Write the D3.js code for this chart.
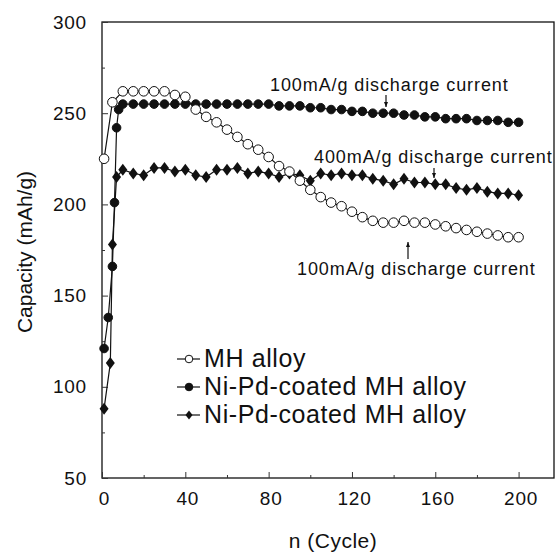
<!DOCTYPE html>
<html>
<head>
<meta charset="utf-8">
<script src="https://cdn.jsdelivr.net/npm/d3@7"></script>
<style>
  body { margin: 0; background: #fff; }
  text { font-family: "Liberation Sans", Arial, sans-serif; fill: #111; }
</style>
</head>
<body>
<div id="chart"></div>
<script>
// data
var cyclesMH = [1, 5, 10, 15, 20, 25, 30, 35, 40, 45, 50, 55, 60, 65, 70, 75, 80, 85, 90, 95,
  100, 105, 110, 115, 120, 125, 130, 135, 140, 145, 150, 155, 160, 165, 170, 175, 180, 185, 190, 195, 200];
var capMH = [225, 256, 262, 262, 262, 262, 262, 260, 259, 252, 248, 245, 241, 237, 233, 230, 226, 221, 218, 213,
  208, 204, 201, 199, 196, 193, 191, 190, 190, 191, 190, 190, 189, 188, 187, 186, 185, 184, 183, 182, 182];

var cyclesNiPd100 = [1, 3, 5, 6, 7, 8, 10, 15, 20, 25, 30, 35, 40, 45, 50, 55, 60, 65, 70, 75, 80, 85, 90, 95,
  100, 105, 110, 115, 120, 125, 130, 135, 140, 145, 150, 155, 160, 165, 170, 175, 180, 185, 190, 195, 200];
var capNiPd100 = [121, 138, 166, 201, 242, 252, 255, 255, 255, 255, 255, 255, 255, 255, 255, 255, 255, 255, 255, 255, 255, 254, 254, 254,
  253, 253, 252, 252, 251, 251, 250, 250, 250, 249, 249, 248, 248, 247, 247, 247, 246, 246, 246, 245, 245];

var cyclesNiPd400 = [1, 4, 5, 7, 10, 15, 20, 25, 30, 35, 40, 45, 50, 55, 60, 65, 70, 75, 80, 85, 90, 95,
  100, 105, 110, 115, 120, 125, 130, 135, 140, 145, 150, 155, 160, 165, 170, 175, 180, 185, 190, 195, 200];
var capNiPd400 = [88, 113, 178, 215, 219, 217, 216, 220, 220, 218, 219, 216, 215, 219, 219, 220, 217, 218, 217, 215, 217, 216,
  213, 217, 216, 217, 216, 216, 214, 213, 211, 214, 212, 212, 211, 211, 209, 208, 209, 207, 206, 206, 205];

var xTicks = [0, 40, 80, 120, 160, 200];
var yTicks = [50, 100, 150, 200, 250, 300];
var legendLabels = ['MH alloy', 'Ni-Pd-coated MH alloy', 'Ni-Pd-coated MH alloy'];

var svgWidth = 557;
var svgHeight = 555;
var margin = { top: 22, right: 3, bottom: 77, left: 102 };
var width = svgWidth - margin.left - margin.right;
var height = svgHeight - margin.top - margin.bottom;

var svg = d3.select('#chart').append('svg')
  .attr('width', svgWidth)
  .attr('height', svgHeight);

var g = svg.append('g')
  .attr('transform', `translate(${margin.left}, ${margin.top})`);

var x = d3.scaleLinear().domain([0, 217]).range([0, width]);
var y = d3.scaleLinear().domain([50, 300]).range([height, 0]);

// frame
g.append('rect')
  .attr('width', width)
  .attr('height', height)
  .attr('fill', 'none')
  .attr('stroke', '#111')
  .attr('stroke-width', 1.3);

// bottom axis, ticks pointing inward
var xAxis = g.append('g')
  .attr('transform', `translate(0, ${height})`)
  .call(d3.axisBottom(x).tickValues(xTicks).tickSize(-6).tickPadding(14).tickFormat(d3.format('d')));
g.append('g')
  .attr('transform', `translate(0, ${height})`)
  .call(d3.axisBottom(x).tickValues([20, 60, 100, 140, 180]).tickSize(-3).tickFormat(''));

var yAxis = g.append('g')
  .call(d3.axisLeft(y).tickValues(yTicks).tickSize(-6).tickPadding(15).tickFormat(d3.format('d')));
g.append('g')
  .call(d3.axisLeft(y).tickValues([75, 125, 175, 225, 275]).tickSize(-3).tickFormat(''));

g.selectAll('.domain').remove();
g.selectAll('.tick line').attr('stroke', '#333');
xAxis.selectAll('text').attr('font-size', '19px').attr('dx', 2).attr('letter-spacing', '0.8px');
yAxis.selectAll('text').attr('font-size', '19px').attr('letter-spacing', '0.8px');

// axis titles
svg.append('text')
  .attr('x', 333)
  .attr('y', 548)
  .attr('text-anchor', 'middle')
  .attr('font-size', '21px')
  .attr('letter-spacing', '0.5px')
  .text('n (Cycle)');

svg.append('text')
  .attr('transform', 'translate(32, 252) rotate(-90)')
  .attr('text-anchor', 'middle')
  .attr('font-size', '21px')
  .text('Capacity (mAh/g)');

// series
var line = d3.line().x(d => x(d[0])).y(d => y(d[1]));
var diamond = 'M0,-6L4.5,0L0,6L-4.5,0Z';

function drawSeries(cycles, caps, kind) {
  var pts = cycles.map((c, i) => [c, caps[i]]);
  g.append('path')
    .datum(pts)
    .attr('d', line)
    .attr('fill', 'none')
    .attr('stroke', '#111')
    .attr('stroke-width', 1.2);
  if (kind === 'diamond') {
    g.selectAll(null)
      .data(pts)
      .enter()
      .append('path')
      .attr('d', diamond)
      .attr('transform', d => `translate(${x(d[0])}, ${y(d[1])})`)
      .attr('fill', '#111');
  } else {
    g.selectAll(null)
      .data(pts)
      .enter()
      .append('circle')
      .attr('cx', d => x(d[0]))
      .attr('cy', d => y(d[1]))
      .attr('r', kind === 'open' ? 4.8 : 4.3)
      .attr('fill', kind === 'open' ? '#fff' : '#111')
      .attr('stroke', '#111')
      .attr('stroke-width', 1);
  }
}

drawSeries(cyclesNiPd400, capNiPd400, 'diamond');
drawSeries(cyclesNiPd100, capNiPd100, 'filled');
drawSeries(cyclesMH, capMH, 'open');

// annotations with little arrows
function note(label, tx, ty, ax, y1, y2) {
  svg.append('text')
    .attr('x', tx)
    .attr('y', ty)
    .attr('font-size', '18px')
    .attr('letter-spacing', '0.9px')
    .text(label);
  svg.append('line')
    .attr('x1', ax).attr('x2', ax)
    .attr('y1', y1).attr('y2', y2)
    .attr('stroke', '#111')
    .attr('stroke-width', 1.2);
  var dir = y2 > y1 ? 1 : -1;
  svg.append('path')
    .attr('d', `M${ax - 2},${y2 - dir * 5}L${ax + 2},${y2 - dir * 5}L${ax},${y2}Z`)
    .attr('fill', '#111');
}

note('100mA/g discharge current', 270, 91, 386, 95, 107);
note('400mA/g discharge current', 314, 163, 434, 168, 178);
note('100mA/g discharge current', 297, 275, 408, 259, 242);

// legend
var legendY = [359, 387, 415];
var kinds = ['open', 'filled', 'diamond'];
legendLabels.forEach(function(label, i) {
  var ly = legendY[i];
  svg.append('line')
    .attr('x1', 177).attr('x2', 200)
    .attr('y1', ly).attr('y2', ly)
    .attr('stroke', '#111')
    .attr('stroke-width', 1.2);
  if (kinds[i] === 'diamond') {
    svg.append('path')
      .attr('d', 'M0,-4.5L3.5,0L0,4.5L-3.5,0Z')
      .attr('transform', `translate(189, ${ly})`)
      .attr('fill', '#111');
  } else {
    svg.append('circle')
      .attr('cx', 189).attr('cy', ly)
      .attr('r', 3.8)
      .attr('fill', kinds[i] === 'open' ? '#fff' : '#111')
      .attr('stroke', '#111');
  }
  svg.append('text')
    .attr('x', 204)
    .attr('y', ly + 8)
    .attr('font-size', '25px')
    .attr('letter-spacing', '0.6px')
    .text(label);
});
</script>
</body>
</html>
